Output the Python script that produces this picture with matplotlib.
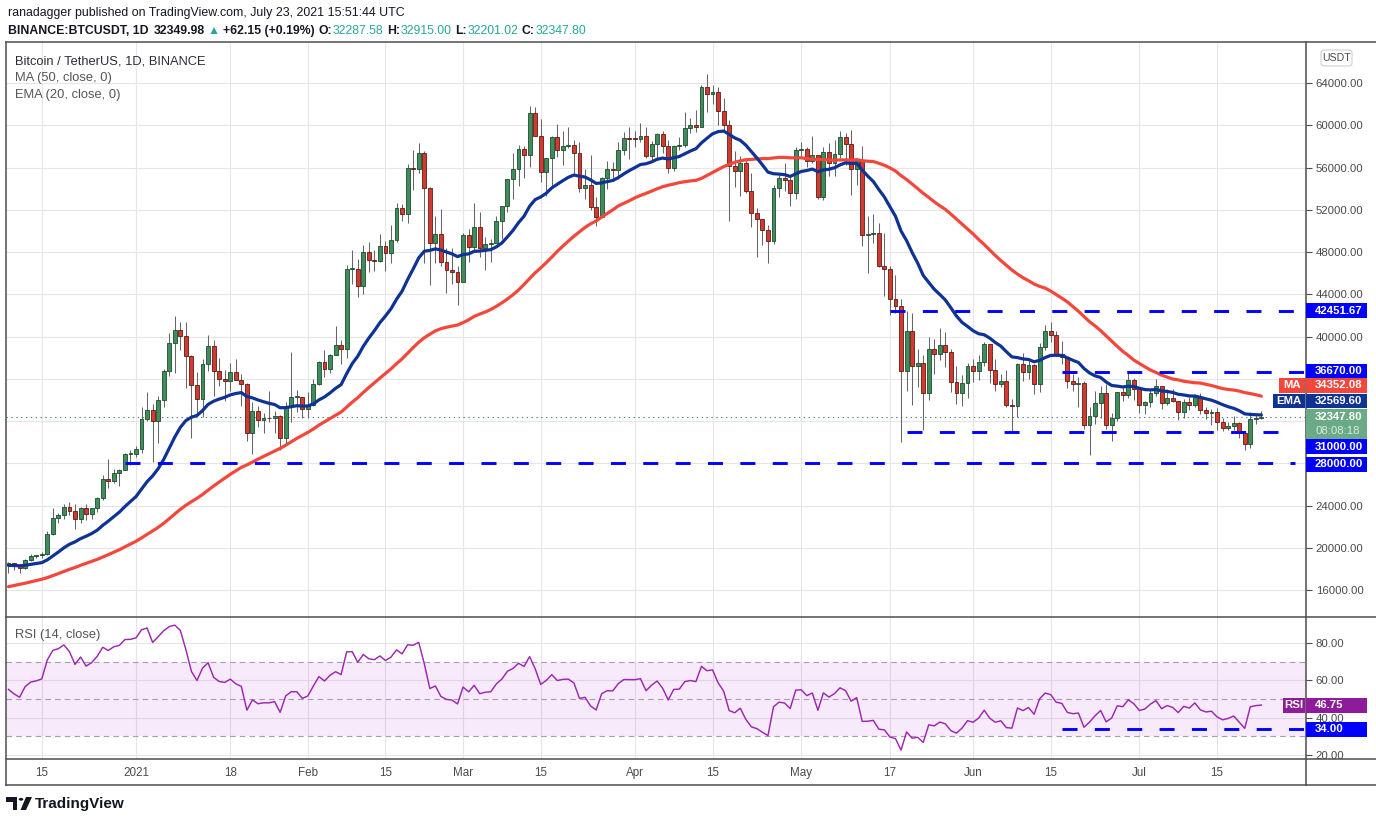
import numpy as np
import pandas as pd
import matplotlib
matplotlib.use("Agg")
import matplotlib.pyplot as plt
from matplotlib.lines import Line2D
from matplotlib.patches import Rectangle, FancyBboxPatch, Polygon, Circle

# ---------------------------------------------------------------- data
# closes before the visible window (Oct 10 - Dec 8 2020), only used to warm up MA/EMA/RSI
warmup_close = [
    11370, 11529, 11425, 11427, 11430, 11505, 11323, 11362, 11500, 11743, 11917,
    12824, 12965, 12931, 13108, 13032, 13063, 13636, 13266, 13456, 13560, 13792,
    13762, 13549, 14023, 14145, 15590, 15580, 14817, 15475, 15328, 15297, 15701,
    16277, 16317, 16069, 15955, 16717, 17645, 17804, 17817, 18621, 18642, 18370,
    18364, 19160, 18720, 17154, 17108, 17718, 18177, 19696,
    18764, 19204, 19421, 18650, 19147, 19359, 19166, 18324,
]

start_date = "2020-12-09"

# daily BTCUSDT, Dec 9 2020 - Jul 23 2021
close_ = [
    # Dec
    18541, 18254, 18036, 18808, 19175, 19273, 19426, 21335, 22797, 23107, 23822, 23455,
    22720, 23810, 23232, 23729, 24712, 26493, 26281, 27079, 27385, 28875, 28923,
    # Jan
    29331, 32178, 33000, 31988, 33949, 36769, 39432, 40582, 40088, 38150, 35404, 34051,
    37371, 39144, 36742, 35994, 35828, 36631, 35891, 35468, 30850, 32945, 32078, 32259,
    32254, 32467, 30366, 33364, 34252, 34262, 33092,
    # Feb
    33526, 35466, 37618, 36936, 38290, 39186, 38795, 46374, 46420, 44807, 47969, 47287,
    47153, 48577, 47911, 49133, 52119, 51552, 55906, 55841, 57408, 54087, 48891, 49676,
    47073, 46276, 46106, 45135,
    # Mar
    49587, 48440, 50349, 48374, 48751, 48882, 50971, 52375, 54884, 55851, 57773, 57221,
    61188, 58968, 55605, 56900, 58912, 57648, 58030, 58102, 57351, 54083, 54340, 52303,
    51293, 55025, 55817, 55777, 57635, 58746, 58740,
    # Apr
    58720, 58950, 57051, 58202, 59129, 57991, 55954, 58077, 58142, 59770, 60007, 59860,
    63575, 62959, 63159, 61334, 60006, 56150, 55633, 56425, 53787, 51690, 51125, 50047,
    49004, 54021, 55033, 54824, 53555, 57697,
    # May
    57798, 56578, 57170, 53200, 57436, 56393, 57314, 58862, 58240, 55816, 56670, 49631,
    49670, 49841, 46708, 46426, 43538, 42849, 36690, 40526, 37252, 37449, 34655, 38796,
    38324, 39241, 38529, 35663, 34605, 35641, 37253,
    # Jun
    36693, 37568, 39246, 36829, 35514, 35797, 33552, 33380, 37389, 36681, 37331, 35546,
    39020, 40516, 40144, 38349, 38092, 35820, 35483, 35600, 31608, 32509, 33678, 34663,
    31584, 32283, 34700, 34494, 35911, 35045,
    # Jul
    33504, 33786, 34669, 35287, 33690, 34220, 33863, 32875, 33815, 33502, 34259, 33086,
    32729, 32820, 31880, 31383, 31520, 31778, 30839, 29790, 32144, 32287, 32347.80,
]

high_ = [
    18640, 18557, 18290, 18948, 19411, 19349, 19570, 21560, 23800, 23285, 24171, 24295,
    24102, 23837, 24100, 23794, 24789, 26867, 28422, 27500, 27410, 28996, 29300,
    29600, 33300, 34778, 33600, 34360, 36939, 40365, 41950, 41380, 41350, 38264, 36628,
    37850, 40100, 39700, 37950, 36852, 37469, 37850, 36415, 35600, 33826, 33456, 32730,
    34875, 32921, 32557, 33783, 38531, 34934, 34288,
    34717, 35984, 37662, 38708, 38310, 40955, 39700, 46794, 48200, 47310, 48678, 48985,
    48150, 49707, 49010, 50600, 52618, 52530, 56368, 57700, 58352, 57533, 54183, 51374,
    52041, 48370, 48394, 46638,
    49790, 50200, 52640, 51773, 49448, 49200, 51450, 52402, 54900, 57387, 58150, 58058,
    61844, 61682, 60633, 56938, 58982, 60100, 59451, 59880, 58589, 58421, 55830, 57200,
    53236, 55073, 56640, 56560, 58400, 59368, 59800,
    59490, 60200, 59791, 58500, 59247, 59495, 58650, 58153, 58894, 61300, 60700, 61400,
    63774, 64854, 63800, 63595, 62572, 60499, 57600, 57074, 56757, 55460, 52131, 51166,
    50591, 54356, 55465, 56428, 55195, 57963,
    58458, 57911, 58981, 57200, 57911, 58360, 58650, 59500, 59300, 59592, 56890, 58000,
    51367, 51569, 50700, 49800, 46643, 45799, 43546, 42451, 42200, 38829, 38270, 39920,
    39791, 40841, 40411, 38856, 37234, 36400, 37499,
    37894, 38225, 39476, 39289, 37917, 36480, 36800, 34068, 37534, 38400, 37680, 37437,
    39380, 41064, 41330, 40527, 39559, 38199, 36457, 36137, 35750, 33298, 34881, 35298,
    35500, 32730, 34749, 35297, 36600, 36100,
    35036, 33939, 34909, 35937, 35293, 35038, 35059, 33928, 34100, 34267, 34592, 34678,
    33340, 33115, 33185, 32249, 31950, 32435, 31899, 31063, 32858, 32591, 32915,
]

low_ = [
    17650, 17911, 17572, 18020, 18711, 19000, 19050, 19278, 21230, 22350, 22750, 23060,
    21815, 22353, 22600, 22703, 23400, 24500, 25700, 26101, 25880, 27320, 27850,
    28624, 28946, 31962, 28130, 29900, 33288, 36300, 36500, 38720, 35111, 30420, 32531,
    32380, 36701, 34408, 35357, 33850, 34800, 35844, 33400, 30071, 28850, 31390, 30900,
    31910, 30837, 29241, 29842, 31915, 32825, 32270,
    32296, 33418, 35362, 36161, 36570, 38215, 37351, 37988, 45000, 43727, 43994, 46125,
    46202, 47014, 46174, 47003, 48947, 50901, 50710, 53863, 55477, 46930, 44892, 47003,
    46700, 44106, 45000, 43000,
    45115, 47047, 48100, 47500, 46300, 47070, 48882, 49274, 51789, 53005, 54270, 55013,
    56078, 58966, 54600, 53271, 54123, 57023, 56270, 57820, 55450, 53650, 53000, 52000,
    50427, 51280, 53966, 54691, 54900, 57167, 56769,
    57935, 58428, 56880, 56478, 56800, 57413, 55473, 55700, 57654, 57900, 59266, 59369,
    59800, 61301, 62020, 60000, 59580, 50931, 54187, 53329, 53596, 50400, 47500, 48657,
    46930, 48753, 53222, 53813, 52330, 53013,
    57052, 56035, 56435, 53013, 52900, 55200, 55241, 56900, 56235, 53400, 54370, 48600,
    46000, 48819, 46555, 43825, 42001, 42250, 30000, 34850, 33488, 35200, 31111, 34031,
    36419, 37800, 37134, 34779, 33632, 33379, 34153,
    35666, 35920, 37170, 35555, 34800, 35258, 33300, 31000, 32396, 35782, 35936, 34600,
    34757, 38730, 39506, 38116, 37365, 35129, 34803, 33336, 31251, 28805, 31683, 32286,
    31275, 30151, 32002, 33862, 34225, 34017,
    32711, 32699, 33306, 34396, 33125, 33533, 33767, 32077, 32261, 33004, 33316, 32658,
    32202, 31600, 31133, 31021, 31164, 31108, 30407, 29278, 29482, 31708, 32201.02,
]

# on Binance the daily open is the previous close
open_ = [warmup_close[-1]] + close_[:-1]
open_[-1] = 32287.58

# horizontal levels drawn on the chart (price, first date, last date or None = to the axis)
level_price = [42451.67, 36670.00, 31000.00, 28000.00]
level_start = ["2021-05-17", "2021-06-17", "2021-05-20", "2020-12-30"]
level_end = [None, None, "2021-07-28", "2021-07-29"]
rsi_level = 34.00
rsi_level_start = "2021-06-17"

tick_dates = ["2020-12-15", "2021-01-01", "2021-01-18", "2021-02-01", "2021-02-15",
              "2021-03-01", "2021-03-15", "2021-04-01", "2021-04-15", "2021-05-01",
              "2021-05-17", "2021-06-01", "2021-06-15", "2021-07-01", "2021-07-15"]
tick_labels = ["15", "2021", "18", "Feb", "15", "Mar", "15", "Apr", "15", "May",
               "17", "Jun", "15", "Jul", "15"]

ma_last_text = "34352.08"
ema_last_text = "32569.60"
rsi_last_text = "46.75"
countdown_text = "08:08:18"

assert len(close_) == len(high_) == len(low_) == 227

# ---------------------------------------------------------------- indicators
all_close = pd.Series(warmup_close + close_, dtype=float)
n0 = len(warmup_close)
ema20 = all_close.ewm(span=20, adjust=False).mean().values[n0:]
ma50 = all_close.rolling(50).mean().values[n0:]
delta = all_close.diff()
gain = delta.clip(lower=0).ewm(alpha=1 / 14, adjust=False).mean()
loss = (-delta.clip(upper=0)).ewm(alpha=1 / 14, adjust=False).mean()
rsi = (100 - 100 / (1 + gain / loss)).values[n0:]

dates = pd.date_range(start_date, periods=len(close_), freq="D")


def day(d):
    return (pd.Timestamp(d) - dates[0]).days


# ---------------------------------------------------------------- figure
W, H = 1376, 823
FONT = ["Liberation Sans", "DejaVu Sans"]
plt.rcParams["font.family"] = FONT
plt.rcParams["lines.scale_dashes"] = False

DARK = "#131722"
GREY_TXT = "#4a4a4a"
BORDER = "#4d4d4d"
GRID = "#e6e6e6"
UP, UP_EDGE = "#3f8c5c", "#1d4a2c"
DOWN, DOWN_EDGE = "#d33a2f", "#5e1a13"
WICK = "#666666"
MA_COL = "#f4473b"
EMA_COL = "#0f3395"
LEVEL_COL = "#0000ff"
RSI_COL = "#9d27b0"
TEAL = "#26a69a"
AXIS_FS = 8.2


def fx(px):
    return px / W


def fy(py):
    return 1 - py / H


fig = plt.figure(figsize=(W / 100, H / 100), dpi=100)
fig.patch.set_facecolor("white")

X0, X1 = 6, 1306
ax = fig.add_axes([fx(X0), fy(617), (X1 - X0) / W, (617 - 42) / H])
axr = fig.add_axes([fx(X0), fy(759), (X1 - X0) / W, (759 - 617) / H], sharex=ax)

x = np.arange(len(close_))
o = np.array(open_, dtype=float)
c = np.array(close_, dtype=float)
hi = np.array(high_, dtype=float)
lo = np.array(low_, dtype=float)
up = c >= o

# candles
ax.vlines(x, lo, hi, color=WICK, lw=0.75, zorder=2)
body_lo = np.minimum(o, c)
body_h = np.maximum(np.abs(c - o), 70)
ax.bar(x[up], body_h[up], bottom=body_lo[up], width=0.7, color=UP,
       edgecolor=UP_EDGE, linewidth=0.6, zorder=2.1)
ax.bar(x[~up], body_h[~up], bottom=body_lo[~up], width=0.7, color=DOWN,
       edgecolor=DOWN_EDGE, linewidth=0.6, zorder=2.1)

# moving averages
ax.plot(x, ma50, color=MA_COL, lw=2.3, zorder=3, solid_capstyle="round")
ax.plot(x, ema20, color=EMA_COL, lw=2.3, zorder=3.1, solid_capstyle="round")

# last price dotted line
ax.axhline(close_[-1], color="#4f8a6d", lw=0.8, ls=(0, (1, 2.5)), zorder=1.5)

xmin, xmax = -0.45, 234.05
# support / resistance levels
for p, s, e in zip(level_price, level_start, level_end):
    xe = xmax if e is None else day(e)
    ax.plot([day(s), xe], [p, p], color=LEVEL_COL, lw=2.1, ls=(0, (10.8, 12.5)),
            solid_capstyle="butt", zorder=4, clip_on=False)

ax.set_xlim(xmin, xmax)
ax.set_ylim(13444, 67882)

price_ticks = list(range(16000, 64001, 4000))
hidden = {28000, 32000, 36000}
ax.yaxis.tick_right()
ax.set_yticks(price_ticks)
ax.set_yticklabels(["" if v in hidden else f"{v:.2f}" for v in price_ticks])
ax.tick_params(axis="y", direction="out", length=4, width=0.8, color=BORDER, pad=3,
               labelsize=AXIS_FS, labelcolor=GREY_TXT)
ax.tick_params(axis="x", length=0, labelbottom=False)
ax.set_xticks([day(d) for d in tick_dates])
ax.grid(True, color=GRID, lw=0.8)
ax.set_axisbelow(True)
for sp in ax.spines.values():
    sp.set_visible(False)

# RSI pane
axr.axhspan(30, 70, color="#b040e0", alpha=0.11, lw=0, zorder=1)
for lvl in (30, 50, 70):
    axr.axhline(lvl, color="#a89bb3", lw=0.8, ls=(0, (4, 3)), zorder=1.2)
axr.plot(x, rsi, color=RSI_COL, lw=1.05, zorder=3)
axr.plot([day(rsi_level_start), xmax], [rsi_level, rsi_level], color=LEVEL_COL, lw=2.1,
         ls=(0, (10.8, 12.5)), solid_capstyle="butt", zorder=4, clip_on=False)
axr.set_ylim(17.86, 93.93)
axr.yaxis.tick_right()
axr.set_yticks([20, 40, 60, 80])
axr.set_yticklabels(["20.00", "40.00", "60.00", "80.00"])
axr.tick_params(axis="y", direction="out", length=4, width=0.8, color=BORDER, pad=3,
                labelsize=AXIS_FS, labelcolor=GREY_TXT)
axr.set_xticks([day(d) for d in tick_dates])
axr.set_xticklabels(tick_labels)
axr.tick_params(axis="x", length=0, pad=6, labelsize=8.4, labelcolor=GREY_TXT)
axr.grid(True, color=GRID, lw=0.8)
axr.set_axisbelow(True)
for sp in axr.spines.values():
    sp.set_visible(False)


# frame lines
def fline(xa, ya, xb, yb, color=BORDER, lw=1.1):
    fig.add_artist(Line2D([fx(xa), fx(xb)], [fy(ya), fy(yb)], transform=fig.transFigure,
                          color=color, lw=lw, zorder=6))


fline(X0, 42, W, 42)
fline(X0, 617, W, 617)
fline(X0, 759, W, 759)
fline(X0, 785, W, 785)
fline(X0, 42, X0, 785)
fline(X1, 42, X1, 785)


# axis tags
def tag(y, text, fc, h=15, tc="white", x0=X1, x1=1367):
    fig.add_artist(Rectangle((fx(x0), fy(y + h / 2)), (x1 - x0) / W, h / H,
                             transform=fig.transFigure, facecolor=fc, edgecolor="none",
                             zorder=7))
    fig.text(fx(1315), fy(y), text, color=tc, fontsize=AXIS_FS, fontweight="bold",
             va="center", ha="left", zorder=8)


def side_tag(y, text, fc, x0, h=15):
    fig.add_artist(Rectangle((fx(x0), fy(y + h / 2)), (X1 - 1 - x0) / W, h / H,
                             transform=fig.transFigure, facecolor=fc, edgecolor="none",
                             zorder=7))
    fig.text(fx((x0 + X1 - 1) / 2), fy(y), text, color="white", fontsize=AXIS_FS,
             fontweight="bold", va="center", ha="center", zorder=8)


tag(310.5, f"{level_price[0]:.2f}", LEVEL_COL)
tag(371, f"{level_price[1]:.2f}", LEVEL_COL)
tag(385.5, ma_last_text, MA_COL)
side_tag(385.5, "MA", MA_COL, 1279)
tag(401, ema_last_text, EMA_COL)
side_tag(401, "EMA", EMA_COL, 1273)
# last price tag with countdown
fig.add_artist(Rectangle((fx(X1), fy(439)), (1367 - X1) / W, 30 / H, transform=fig.transFigure,
                         facecolor="#6aaa86", edgecolor="none", zorder=7))
fig.text(fx(1315), fy(417), f"{close_[-1]:.2f}", color="white", fontsize=AXIS_FS,
         fontweight="bold", va="center", ha="left", zorder=8)
fig.text(fx(1315), fy(430.5), countdown_text, color="#d9ece0", fontsize=AXIS_FS,
         va="center", ha="left", zorder=8)
tag(446.5, f"{level_price[2]:.2f}", LEVEL_COL)
tag(464, f"{level_price[3]:.2f}", LEVEL_COL)
tag(705, rsi_last_text, "#8e1c9a")
side_tag(705, "RSI", "#8e1c9a", 1283)
tag(729, f"{rsi_level:.2f}", LEVEL_COL)

# currency box
fig.add_artist(FancyBboxPatch((fx(1321), fy(66)), 31 / W, 16 / H,
                              boxstyle="round,pad=0,rounding_size=0.003",
                              transform=fig.transFigure, facecolor="white",
                              edgecolor="#cfcfcf", lw=0.8, zorder=7))
fig.text(fx(1336.5), fy(58), "USDT", color=GREY_TXT, fontsize=7.6, ha="center",
         va="center", zorder=8)

# pane legends
fig.text(fx(15), fy(61), "Bitcoin / TetherUS, 1D, BINANCE", color="#2a2e39", fontsize=9.3,
         va="center", ha="left")
fig.text(fx(15), fy(78), "MA (50, close, 0)", color="#555555", fontsize=9.3,
         va="center", ha="left")
fig.text(fx(15), fy(95), "EMA (20, close, 0)", color="#555555", fontsize=9.3,
         va="center", ha="left")
fig.text(fx(15), fy(635), "RSI (14, close)", color="#555555", fontsize=9.3,
         va="center", ha="left")

# header
fig.text(fx(8), fy(13), "ranadagger published on TradingView.com, July 23, 2021 15:51:44 UTC",
         color=DARK, fontsize=8.9, va="center", ha="left")

fig.canvas.draw()
renderer = fig.canvas.get_renderer()
parts = [
    ("BINANCE:BTCUSDT, 1D", DARK, "bold", 5),
    ("32349.98", DARK, "bold", 3),
    ("\u25b2", TEAL, "normal", 3),
    ("+62.15 (+0.19%)", DARK, "bold", 4),
    ("O:", DARK, "bold", 1),
    ("32287.58", TEAL, "normal", 3),
    ("H:", DARK, "bold", 1),
    ("32915.00", TEAL, "normal", 3),
    ("L:", DARK, "bold", 1),
    ("32201.02", TEAL, "normal", 3),
    ("C:", DARK, "bold", 1),
    ("32347.80", TEAL, "normal", 0),
]
xpos = 8
for s, col, wt, gap in parts:
    t = fig.text(fx(xpos), fy(31), s, color=col, fontsize=8.8, fontweight=wt,
                 va="center", ha="left")
    xpos += t.get_window_extent(renderer=renderer).width + gap

# TradingView logo
fig.add_artist(Polygon([(fx(6), fy(797)), (fx(17), fy(797)), (fx(17), fy(810)),
                        (fx(12.5), fy(810)), (fx(12.5), fy(801.5)), (fx(6), fy(801.5))],
                       closed=True, transform=fig.transFigure, facecolor=DARK,
                       edgecolor="none"))
fig.add_artist(Circle((fx(21), fy(799.3)), 2.3 / W, transform=fig.transFigure,
                      facecolor=DARK, edgecolor="none"))
fig.add_artist(Polygon([(fx(26), fy(797)), (fx(32), fy(797)), (fx(26), fy(810)),
                        (fx(20.5), fy(810))], closed=True, transform=fig.transFigure,
                       facecolor=DARK, edgecolor="none"))
fig.text(fx(35), fy(804), "TradingView", color=DARK, fontsize=11, fontweight="bold",
         va="center", ha="left")

fig.savefig("out.png", dpi=100)
